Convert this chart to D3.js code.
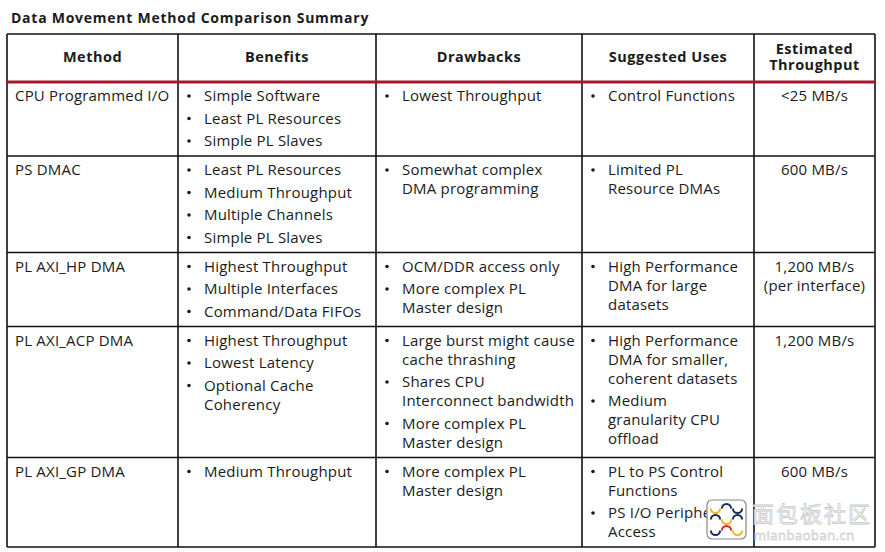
<!DOCTYPE html>
<html>
<head>
<meta charset="utf-8">
<script src="https://cdn.jsdelivr.net/npm/d3@7/dist/d3.min.js"></script>
<style>
  html, body { margin: 0; padding: 0; background: #fff; }
  svg { display: block; }
</style>
</head>
<body>
<script>
// ---------------- DATA ----------------
const title = "Data Movement Method Comparison Summary";
const headers = [["Method"], ["Benefits"], ["Drawbacks"], ["Suggested Uses"], ["Estimated", "Throughput"]];
const methods = ["CPU Programmed I/O", "PS DMAC", "PL AXI_HP DMA", "PL AXI_ACP DMA", "PL AXI_GP DMA"];
// each bullet is a list of wrapped lines
const benefits = [
  [["Simple Software"], ["Least PL Resources"], ["Simple PL Slaves"]],
  [["Least PL Resources"], ["Medium Throughput"], ["Multiple Channels"], ["Simple PL Slaves"]],
  [["Highest Throughput"], ["Multiple Interfaces"], ["Command/Data FIFOs"]],
  [["Highest Throughput"], ["Lowest Latency"], ["Optional Cache", "Coherency"]],
  [["Medium Throughput"]]
];
const drawbacks = [
  [["Lowest Throughput"]],
  [["Somewhat complex", "DMA programming"]],
  [["OCM/DDR access only"], ["More complex PL", "Master design"]],
  [["Large burst might cause", "cache thrashing"], ["Shares CPU", "Interconnect bandwidth"], ["More complex PL", "Master design"]],
  [["More complex PL", "Master design"]]
];
const uses = [
  [["Control Functions"]],
  [["Limited PL", "Resource DMAs"]],
  [["High Performance", "DMA for large", "datasets"]],
  [["High Performance", "DMA for smaller,", "coherent datasets"], ["Medium", "granularity CPU", "offload"]],
  [["PL to PS Control", "Functions"], ["PS I/O Peripheral", "Access"]]
];
const throughput = [["<25 MB/s"], ["600 MB/s"], ["1,200 MB/s", "(per interface)"], ["1,200 MB/s"], ["600 MB/s"]];

// ---------------- LAYOUT ----------------
const W = 885, H = 552;
const FONT = "'Open Sans', 'DejaVu Sans', sans-serif";
const fontSize = 15, headFont = 14.5, titleFont = 14;
const colWidths = [171, 198, 206, 172, 121];
const tableLeft = 7, tableTop = 34, headerH = 48;
const lineH = 19, bulletGap = 3.5, rowPad = 10;
const textColor = "#1b1b1b";

const colX = [tableLeft, ...d3.cumsum(colWidths).map(v => v + tableLeft)];

const svg = d3.select("body").append("svg").attr("width", W).attr("height", H);

// title
svg.append("text").attr("x", 11).attr("y", 22.5)
  .attr("font-family", FONT).attr("font-size", titleFont).attr("font-weight", 700)
  .attr("letter-spacing", 0.75).attr("fill", textColor).text(title);

// compute rows
const rows = methods.map((m, i) => ({
  method: m, cells: [benefits[i], drawbacks[i], uses[i]], tp: throughput[i]
}));
function bulletHeight(list) {
  const nLines = d3.sum(list, b => b.length);
  return nLines * lineH + (list.length - 1) * bulletGap;
}
const rowHeights = rows.map(r => Math.max(...r.cells.map(bulletHeight), r.tp.length * lineH) + rowPad);
const rowY = [tableTop + headerH];
rowHeights.forEach((h, i) => rowY.push(rowY[i] + h));
const tableBottom = rowY[rowY.length - 1];

const g = svg.append("g");

function bodyText(sel) {
  return sel.attr("font-family", FONT).attr("font-size", fontSize)
    .attr("letter-spacing", 0.2).attr("fill", textColor);
}

// header text (multi-line as tspans)
headers.forEach((lines, j) => {
  const cx = (colX[j] + colX[j + 1]) / 2;
  const n = lines.length;
  const baseY = n === 1 ? 62 : 53.5;
  const t = g.append("text").attr("x", cx).attr("y", baseY)
    .attr("text-anchor", "middle").attr("font-family", FONT)
    .attr("font-size", headFont).attr("font-weight", 700)
    .attr("letter-spacing", 0.5).attr("fill", textColor);
  lines.forEach((ln, k) => {
    t.append("tspan").attr("x", cx).attr("dy", k === 0 ? 0 : 16).text(ln);
  });
});

// body text
rows.forEach((r, i) => {
  const top = rowY[i];
  const base = top + 19;
  bodyText(g.append("text").attr("x", colX[0] + 8).attr("y", base)).text(r.method);
  r.cells.forEach((list, c) => {
    const left = colX[c + 1];
    let y = base;
    list.forEach(bullet => {
      g.append("circle").attr("cx", left + 11).attr("cy", y - 5).attr("r", 1.8).attr("fill", textColor);
      const t = bodyText(g.append("text").attr("x", left + 26).attr("y", y));
      bullet.forEach((ln, k) => {
        t.append("tspan").attr("x", left + 26).attr("dy", k === 0 ? 0 : lineH).text(ln);
      });
      y += bullet.length * lineH + bulletGap;
    });
  });
  const cx = (colX[4] + colX[5]) / 2;
  const tt = bodyText(g.append("text").attr("x", cx).attr("y", base).attr("text-anchor", "middle"));
  r.tp.forEach((ln, k) => {
    tt.append("tspan").attr("x", cx).attr("dy", k === 0 ? 0 : lineH).text(ln);
  });
});

// grid lines
const lineColor = "#111";
const lw = 1.6;
colX.forEach(x => {
  g.append("line").attr("x1", x).attr("x2", x).attr("y1", tableTop).attr("y2", tableBottom)
    .attr("stroke", lineColor).attr("stroke-width", lw);
});
g.append("line").attr("x1", colX[0]).attr("x2", colX[5]).attr("y1", tableTop).attr("y2", tableTop)
  .attr("stroke", lineColor).attr("stroke-width", lw);
rowY.slice(1).forEach(y => {
  g.append("line").attr("x1", colX[0]).attr("x2", colX[5]).attr("y1", y).attr("y2", y)
    .attr("stroke", lineColor).attr("stroke-width", lw);
});
g.append("line").attr("x1", colX[0] - 1).attr("x2", colX[5] + 1).attr("y1", rowY[0]).attr("y2", rowY[0])
  .attr("stroke", "#a3172c").attr("stroke-width", 3);

// watermark
const wm = svg.append("g");
wm.append("rect").attr("x", 707).attr("y", 500).attr("width", 39).attr("height", 39).attr("rx", 5)
  .attr("fill", "#fff").attr("stroke", "#888").attr("stroke-width", 1.2);
const arcCols = [["#f2b817", "#1c2a5c", "#1c2a5c"], ["#1c2a5c", "#f2b817", "#1c2a5c"], ["#1c2a5c", "#d9232e", "#f2b817"]];
const arcGen = d3.arc().innerRadius(3.6).outerRadius(5.6);
for (let r = 0; r < 3; r++) for (let c = 0; c < 3; c++) {
  const flip = (r + c) % 2 === 0;
  wm.append("path")
    .attr("d", flip ? arcGen({ startAngle: Math.PI * 0.5, endAngle: Math.PI * 1.5 })
                    : arcGen({ startAngle: -Math.PI * 0.5, endAngle: Math.PI * 0.5 }))
    .attr("transform", `translate(${715.5 + c * 11},${508.5 + r * 11})`)
    .attr("fill", arcCols[r][c]);
}
const wt = wm.append("text").attr("x", 752).attr("y", 522);
wt.append("tspan").attr("font-family", "'Noto Sans CJK SC', sans-serif")
  .attr("font-size", 22).attr("fill", "#fff").attr("stroke", "#c8c8c8").attr("stroke-width", 0.8)
  .attr("letter-spacing", 2).text("面包板社区");
wt.append("tspan").attr("x", 754).attr("dy", 18).attr("font-family", FONT)
  .attr("font-size", 13).attr("fill", "#fff").attr("stroke", "#d5d5d5").attr("stroke-width", 0.8)
  .attr("letter-spacing", 0.5).text("mianbaoban.cn");
</script>
</body>
</html>
